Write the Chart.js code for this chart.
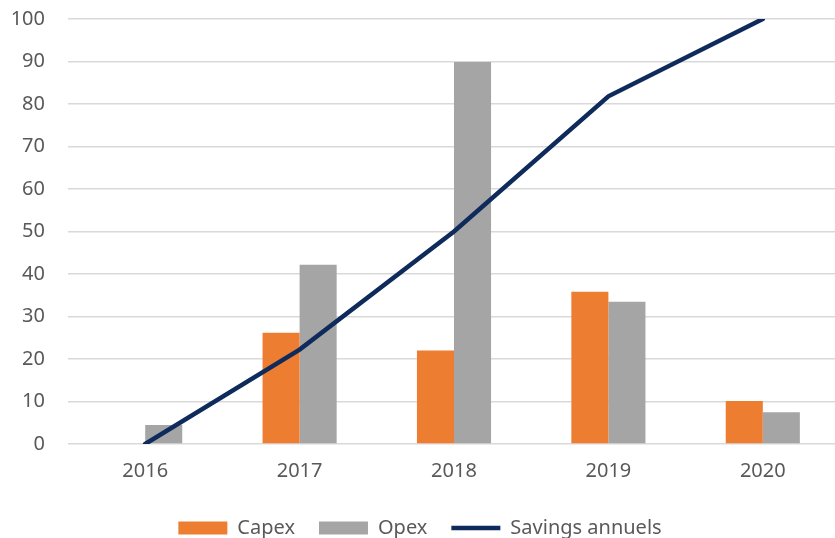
<!DOCTYPE html>
<html>
<head>
<meta charset="utf-8">
<script src="https://cdn.jsdelivr.net/npm/chart.js@4.4.1/dist/chart.umd.min.js"></script>
<style>
  body { margin: 0; background: #fff; overflow: hidden; }
  #wrap { width: 840px; height: 554px; margin-top: -16px; }
</style>
</head>
<body>
<div id="wrap"><canvas id="chart" width="840" height="554"></canvas></div>
<script>
// values
const years = ['2016', '2017', '2018', '2019', '2020'];
const capex = [0, 26.2, 22, 35.8, 10.1];
const opex = [4.5, 42.2, 89.9, 33.5, 7.5];
const savings = [0, 22.2, 50, 81.8, 100];

const textColor = '#595959';
const font = { family: 'Noto Sans', size: 20 };

const chart = new Chart(document.getElementById('chart'), {
    data: {
        labels: years,
        datasets: [
            {
                type: 'bar',
                label: 'Capex',
                data: capex,
                backgroundColor: '#ED7D31',
                pointStyle: 'rect',
                categoryPercentage: 0.48,
                barPercentage: 1,
                order: 2
            },
            {
                type: 'bar',
                label: 'Opex',
                data: opex,
                backgroundColor: '#A5A5A5',
                pointStyle: 'rect',
                categoryPercentage: 0.48,
                barPercentage: 1,
                order: 2
            },
            {
                type: 'line',
                label: 'Savings annuels',
                data: savings,
                borderColor: '#0f2b5b',
                backgroundColor: '#0f2b5b',
                borderWidth: 4.5,
                borderCapStyle: 'round',
                pointRadius: 0,
                pointStyle: 'line',
                tension: 0,
                order: 1
            }
        ]
    },
    options: {
        responsive: false,
        animation: false,
        layout: { padding: { top: 0, left: 0, right: 0, bottom: -10 } },
        scales: {
            x: {
                grid: { display: false },
                border: { display: false },
                ticks: { color: textColor, font: font, padding: 7 },
                afterFit: (scale) => { scale.height += 4; }
            },
            y: {
                min: 0,
                max: 100,
                grid: { color: '#d9d9d9', lineWidth: 1.5, drawTicks: false },
                border: { display: false },
                ticks: { stepSize: 10, color: textColor, font: font, padding: 23 },
                afterFit: (scale) => { scale.width = 68; }
            }
        },
        plugins: {
            legend: {
                position: 'bottom',
                labels: {
                    color: textColor,
                    font: font,
                    usePointStyle: true,
                    pointStyleWidth: 49,
                    boxHeight: 13,
                    padding: 24,
                    sort: (a, b) => a.datasetIndex - b.datasetIndex
                }
            },
            tooltip: { enabled: false }
        }
    }
});
</script>
</body>
</html>
